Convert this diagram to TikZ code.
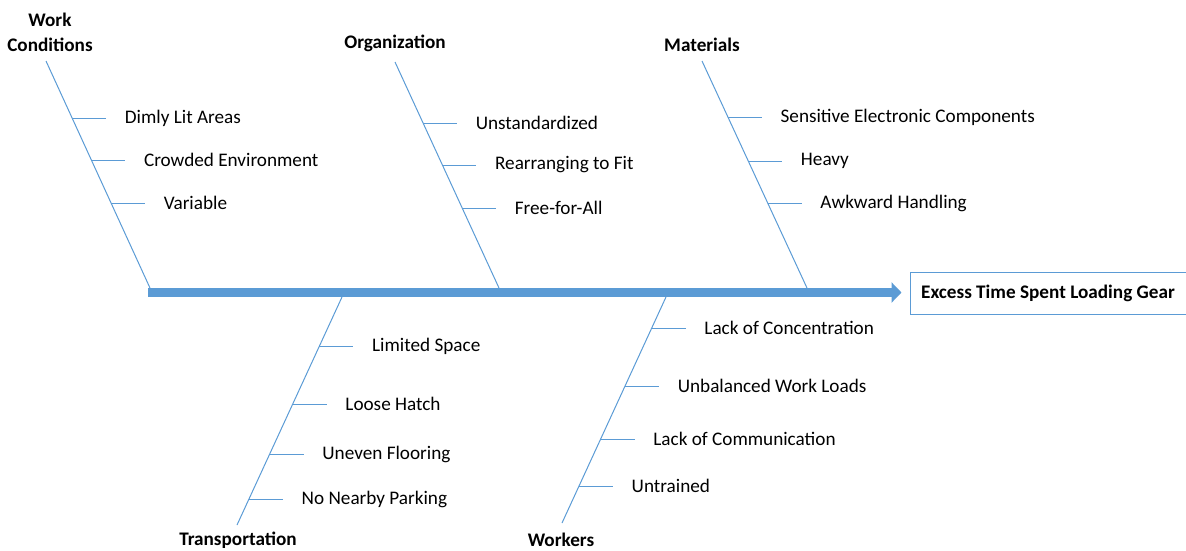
\documentclass[tikz,border=0pt]{standalone}
\usepackage{fontspec}
\setmainfont{Carlito}
\usetikzlibrary{arrows.meta,calc}
\definecolor{bone}{HTML}{5B9BD5}
\definecolor{spinefill}{HTML}{5B9BD5}
\tikzset{
  boneline/.style={draw=bone, line width=1pt},
  twig/.style={draw=bone, line width=1pt},
  causetext/.style={anchor=west, inner sep=0pt, font=\fontsize{19.2}{22}\selectfont, xshift=18.5pt},
  headtext/.style={inner sep=0pt, font=\fontsize{19.2}{25}\selectfont\bfseries, align=center},
  effectbox/.style={draw=bone, line width=1pt, minimum width=276pt, minimum height=42pt,
                    inner sep=0pt, font=\fontsize{19.2}{22}\selectfont\bfseries},
  spine/.style={draw=spinefill, line width=9.5pt,
                -{Triangle[length=10pt,width=20pt]}, shorten >=8pt}
}
\begin{document}
\begin{tikzpicture}[x=1pt,y=-1pt]
\useasboundingbox (0,0) rectangle (1186,550);

% effect box and spine
\node[effectbox] (effect) at (1048,293) {Excess Time Spent Loading Gear};
\coordinate (tail) at (148,292.5);
\draw[spine] (tail) -- (tail -| effect.west);

% category headings
\node[headtext] (hwc)  at (50,32)   {Work\\Conditions};
\node[headtext] (horg) at (395,43)  {Organization};
\node[headtext] (hmat) at (702,45)  {Materials};
\node[headtext] (htr)  at (238,540) {Transportation};
\node[headtext] (hwk)  at (561,540) {Workers};

% bone end points
\coordinate (wcTop)  at (46,61);   \coordinate (wcEnd)  at (150,288);
\coordinate (orgTop) at (395,62);  \coordinate (orgEnd) at (499,288);
\coordinate (matTop) at (702,61);  \coordinate (matEnd) at (807,288);
\coordinate (trTop)  at (342,297); \coordinate (trEnd)  at (237,525);
\coordinate (wkTop)  at (666,297); \coordinate (wkEnd)  at (562,523);

\foreach \a/\b in {wcTop/wcEnd, orgTop/orgEnd, matTop/matEnd, trTop/trEnd, wkTop/wkEnd}
  \draw[boneline] (\a) -- (\b);

% causes: bone, row height, name, text
\foreach \a/\b/\y/\n/\t in {
  wcTop/wcEnd/118/wc1/Dimly Lit Areas,
  wcTop/wcEnd/160/wc2/Crowded Environment,
  wcTop/wcEnd/203/wc3/Variable,
  orgTop/orgEnd/123/org1/Unstandardized,
  orgTop/orgEnd/165/org2/Rearranging to Fit,
  orgTop/orgEnd/208/org3/Free-for-All,
  matTop/matEnd/117/mat1/Sensitive Electronic Components,
  matTop/matEnd/161/mat2/Heavy,
  matTop/matEnd/203/mat3/Awkward Handling,
  trTop/trEnd/346/tr1/Limited Space,
  trTop/trEnd/404/tr2/Loose Hatch,
  trTop/trEnd/454/tr3/Uneven Flooring,
  trTop/trEnd/499/tr4/No Nearby Parking,
  wkTop/wkEnd/328/wk1/Lack of Concentration,
  wkTop/wkEnd/386/wk2/Unbalanced Work Loads,
  wkTop/wkEnd/439/wk3/Lack of Communication,
  wkTop/wkEnd/486/wk4/Untrained}{
  \coordinate (\n) at (intersection cs: first line={(\a)--(\b)}, second line={(0,\y)--(1,\y)});
  \draw[twig] (\n) -- ++(34,0) coordinate (\n e);
  \node[causetext] (\n t) at (\n e) {\t};
}
\end{tikzpicture}
\end{document}
